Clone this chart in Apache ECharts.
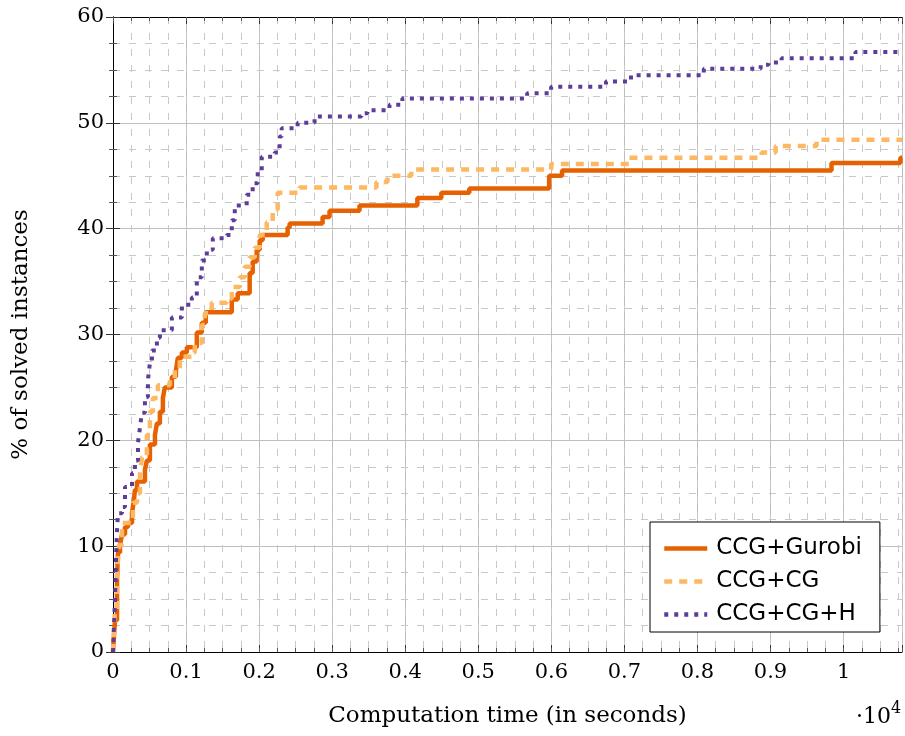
<!DOCTYPE html>
<html>
<head>
<meta charset="utf-8">
<script src="https://cdn.jsdelivr.net/npm/echarts@6/dist/echarts.min.js"></script>
<style>
html,body{margin:0;padding:0;background:#fff;}
#c{width:905px;height:736px;}
</style>
</head>
<body>
<div id="c"></div>
<script>
// ---- data (time in seconds, % of solved instances) ----
const seriesNames = ['CCG+Gurobi', 'CCG+CG', 'CCG+CG+H'];

const gurobiTime = [0, 27, 55, 68, 96, 123, 164, 205, 260, 287, 300, 328, 437, 464, 505, 574, 601, 642, 683, 710, 806, 861, 888, 943, 1011, 1147, 1216, 1270, 1626, 1707, 1871, 1912, 1967, 2008, 2049, 2390, 2418, 2869, 2964, 3374, 4166, 4494, 4877, 5970, 6147, 9835, 10778, 10800];
const gurobiPct  = [0, 3.0, 6.8, 9.4, 10.1, 11.1, 11.8, 12.2, 13.1, 14.4, 15.3, 16.1, 17.2, 18.1, 19.6, 20.5, 21.6, 22.7, 24.0, 25.0, 26.0, 26.6, 27.8, 28.3, 28.8, 30.2, 31.1, 32.1, 33.3, 33.9, 35.8, 36.9, 38.0, 38.9, 39.4, 40.1, 40.5, 41.1, 41.7, 42.2, 42.9, 43.4, 43.8, 45.0, 45.5, 46.2, 46.7, 46.7];

const cgTime = [0, 27, 55, 82, 123, 273, 328, 369, 396, 464, 505, 546, 615, 779, 847, 915, 1079, 1120, 1216, 1257, 1352, 1557, 1626, 1735, 1803, 1871, 1940, 2008, 2104, 2186, 2254, 2554, 3606, 3757, 4084, 5997, 7062, 8879, 9070, 9630, 10800];
const cgPct  = [0, 4.0, 7.3, 10.1, 12.2, 14.1, 15.0, 16.7, 18.4, 20.5, 22.7, 24.0, 25.2, 25.7, 26.8, 27.9, 28.3, 29.2, 30.9, 32.0, 33.0, 33.4, 34.5, 35.4, 36.4, 37.3, 38.2, 39.4, 40.6, 41.8, 43.4, 43.9, 44.4, 45.0, 45.6, 46.1, 46.7, 47.2, 47.8, 48.4, 48.4];

const cghTime = [0, 27, 41, 55, 68, 123, 164, 260, 300, 342, 369, 396, 437, 478, 505, 533, 601, 642, 806, 943, 1079, 1147, 1216, 1284, 1366, 1557, 1626, 1667, 1830, 1912, 1981, 2036, 2213, 2281, 2309, 2527, 2759, 3401, 3483, 3784, 3961, 5669, 5997, 6748, 7090, 8087, 8865, 8974, 9152, 10163, 10800];
const cghPct  = [0, 4.9, 8.7, 11.5, 13.1, 13.7, 15.6, 16.9, 18.1, 19.8, 21.2, 22.6, 24.1, 25.7, 27.3, 28.5, 29.7, 30.4, 31.6, 32.8, 33.5, 35.4, 37.0, 38.0, 39.1, 39.4, 40.8, 42.2, 43.2, 44.3, 45.4, 46.8, 47.2, 48.7, 49.5, 50.0, 50.6, 50.9, 51.2, 51.7, 52.3, 52.8, 53.4, 53.9, 54.5, 55.1, 55.5, 55.7, 56.1, 56.7, 56.7];

const xMin = 0, xMax = 10800, xMajor = 1000, xMinor = 250;
const yMin = 0, yMax = 60, yMajor = 10;
const xTickLabels = ['0', '0.1', '0.2', '0.3', '0.4', '0.5', '0.6', '0.7', '0.8', '0.9', '1'];
const yTickLabels = ['0', '10', '20', '30', '40', '50', '60'];

const colors = ['#e66101', '#fdb863', '#5e3c99'];

function pairs(t, p) { return t.map((v, i) => [v, p[i]]); }

const serif = 'DejaVu Serif';
const sans = 'DejaVu Sans';
const gridColor = '#bdbdbd';
const minorColor = '#c8c8c8';

const chart = echarts.init(document.getElementById('c'), null, {renderer: 'canvas'});

const baseX = {type: 'value', min: xMin, max: xMax, gridIndex: 0};
const baseY = {type: 'value', min: yMin, max: yMax, gridIndex: 0};

chart.setOption({
  animation: false,
  backgroundColor: '#fff',
  grid: {left: 113, top: 17, right: 2, bottom: 84, containLabel: false},
  xAxis: [
    Object.assign({}, baseX, {
      position: 'bottom', interval: xMajor,
      name: 'Computation time (in seconds)', nameLocation: 'middle', nameGap: 53,
      nameTextStyle: {fontFamily: serif, fontSize: 23, color: '#000'},
      axisLine: {show: true, lineStyle: {color: '#000', width: 1}},
      axisTick: {show: true, inside: true, length: 7, lineStyle: {color: '#333'}},
      axisLabel: {show: true, margin: 10, fontFamily: serif, fontSize: 21, color: '#000',
        formatter: v => (v % xMajor === 0 ? xTickLabels[v / xMajor] : '')},
      splitLine: {show: true, lineStyle: {color: gridColor, width: 1}}
    }),
    Object.assign({}, baseX, {
      position: 'bottom', interval: xMinor,
      axisLine: {show: false}, axisLabel: {show: false},
      axisTick: {show: true, inside: true, length: 4, lineStyle: {color: '#555'}},
      splitLine: {show: true, lineStyle: {color: minorColor, width: 1, type: [7, 9]}}
    }),
    Object.assign({}, baseX, {
      position: 'top', interval: xMajor,
      axisLine: {show: true, lineStyle: {color: '#000', width: 1}},
      axisTick: {show: true, inside: true, length: 7, lineStyle: {color: '#333'}},
      axisLabel: {show: false}, splitLine: {show: false}
    }),
    Object.assign({}, baseX, {
      position: 'top', interval: xMinor,
      axisLine: {show: false}, axisLabel: {show: false},
      axisTick: {show: true, inside: true, length: 4, lineStyle: {color: '#555'}},
      splitLine: {show: false}
    })
  ],
  yAxis: [
    Object.assign({}, baseY, {
      position: 'left', interval: yMajor,
      name: '% of solved instances', nameLocation: 'middle', nameGap: 80,
      nameTextStyle: {fontFamily: serif, fontSize: 23, color: '#000'},
      axisLine: {show: true, lineStyle: {color: '#000', width: 1}},
      axisTick: {show: true, inside: true, length: 7, lineStyle: {color: '#333'}},
      minorTick: {show: true, splitNumber: 4, length: 4, lineStyle: {color: '#555'}},
      axisLabel: {show: true, margin: 9, fontFamily: serif, fontSize: 21, color: '#000',
        formatter: v => yTickLabels[Math.round(v / yMajor)]},
      splitLine: {show: true, lineStyle: {color: gridColor, width: 1}},
      minorSplitLine: {show: true, lineStyle: {color: minorColor, width: 1, type: [7, 9]}}
    }),
    Object.assign({}, baseY, {
      position: 'right', interval: yMajor,
      axisLine: {show: true, lineStyle: {color: '#000', width: 1}},
      axisTick: {show: true, inside: true, length: 7, lineStyle: {color: '#333'}},
      minorTick: {show: true, splitNumber: 4, length: 4, lineStyle: {color: '#555'}},
      axisLabel: {show: false}, splitLine: {show: false}
    })
  ],
  legend: {
    show: true, orient: 'vertical', left: 650, top: 522,
    padding: [15, 18, 6, 12], itemGap: 10,
    itemWidth: 43, itemHeight: 14,
    backgroundColor: '#fff', borderColor: '#000', borderWidth: 1, borderRadius: 0,
    itemStyle: {opacity: 0},
    lineStyle: {width: 4.5},
    textStyle: {fontFamily: sans, fontSize: 23, color: '#000', padding: [0, 0, 0, 4]},
    data: seriesNames.map(n => ({name: n}))
  },
  graphic: [{
    type: 'text', left: 856, top: 701,
    style: {
      text: '{a|·10}{b|4}',
      rich: {
        a: {fontFamily: serif, fontSize: 22, fill: '#000', verticalAlign: 'bottom'},
        b: {fontFamily: serif, fontSize: 16, fill: '#000', verticalAlign: 'top', padding: [0, 0, 11, 0]}
      }
    }
  }],
  series: [
    {name: seriesNames[0], type: 'line', step: 'end', data: pairs(gurobiTime, gurobiPct),
      symbol: 'none', color: colors[0], lineStyle: {color: colors[0], width: 4.5, type: 'solid'}, z: 3},
    {name: seriesNames[1], type: 'line', step: 'end', data: pairs(cgTime, cgPct),
      symbol: 'none', color: colors[1], lineStyle: {color: colors[1], width: 4.5, type: [8, 7], cap: 'butt'}, z: 4},
    {name: seriesNames[2], type: 'line', step: 'end', data: pairs(cghTime, cghPct),
      symbol: 'none', color: colors[2], lineStyle: {color: colors[2], width: 4, type: [4, 6], cap: 'butt'}, z: 5}
  ]
});
</script>
</body>
</html>
